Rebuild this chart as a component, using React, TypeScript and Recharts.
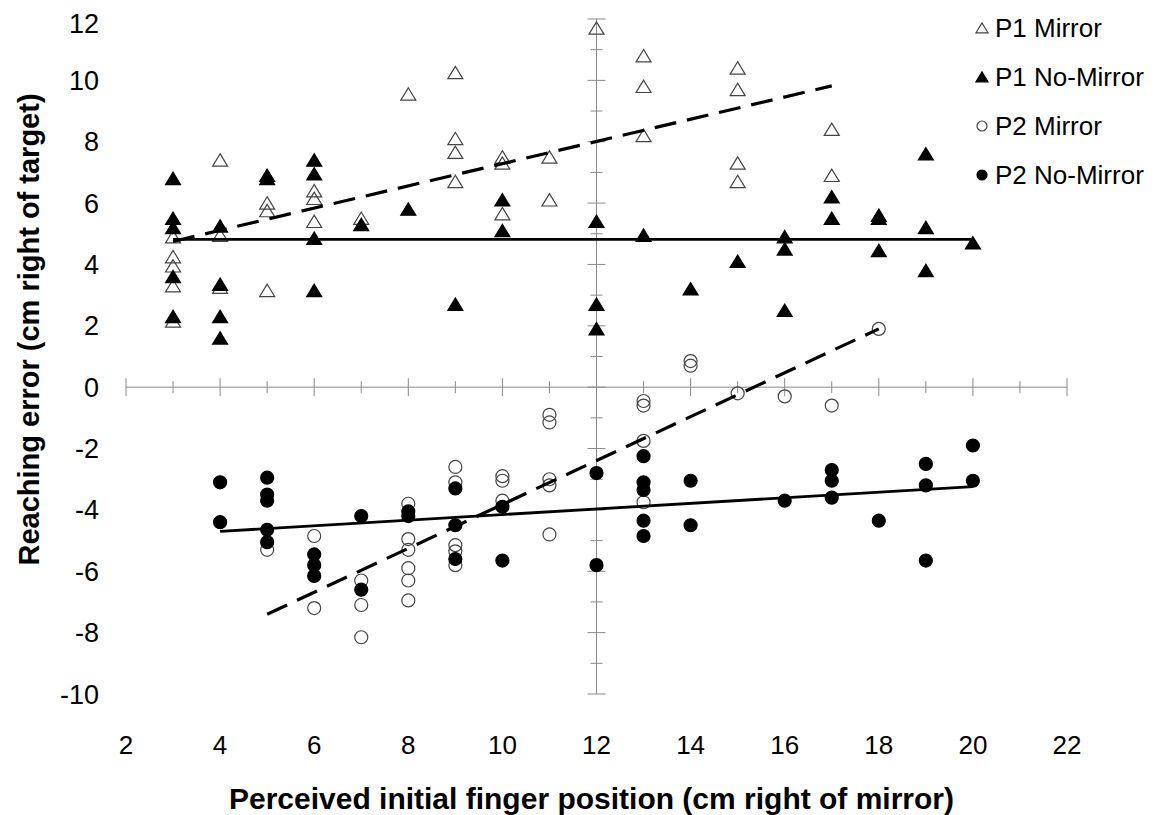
import React from 'react';
import { ScatterChart, Scatter, XAxis, YAxis, ReferenceLine, Label } from 'recharts';

// axis ticks
const xTicks = [2, 4, 6, 8, 10, 12, 14, 16, 18, 20, 22];
const yTicks = [-10, -8, -6, -4, -2, 0, 2, 4, 6, 8, 10, 12];
const xAxisMarks = [2, 3, 4, 5, 6, 7, 8, 9, 10, 11, 12, 13, 14, 15, 16, 17, 18, 19, 20, 21, 22];
const yAxisMarks = [-10, -9, -8, -7, -6, -5, -4, -3, -2, -1, 0, 1, 2, 3, 4, 5, 6, 7, 8, 9, 10, 11, 12];

// P1 Mirror (open triangles)
const p1Mirror = [
  { x: 3, y: 4.9 }, { x: 3, y: 4.25 }, { x: 3, y: 3.95 }, { x: 3, y: 3.3 }, { x: 3, y: 2.15 },
  { x: 4, y: 7.4 }, { x: 4, y: 4.95 }, { x: 4, y: 3.25 },
  { x: 5, y: 6.0 }, { x: 5, y: 5.75 }, { x: 5, y: 3.15 },
  { x: 6, y: 6.4 }, { x: 6, y: 6.15 }, { x: 6, y: 5.4 },
  { x: 7, y: 5.5 },
  { x: 8, y: 9.55 },
  { x: 9, y: 10.25 }, { x: 9, y: 8.1 }, { x: 9, y: 7.65 }, { x: 9, y: 6.7 },
  { x: 10, y: 7.5 }, { x: 10, y: 7.3 }, { x: 10, y: 5.65 },
  { x: 11, y: 7.5 }, { x: 11, y: 6.1 },
  { x: 12, y: 11.7 },
  { x: 13, y: 10.8 }, { x: 13, y: 9.8 }, { x: 13, y: 8.2 },
  { x: 15, y: 10.4 }, { x: 15, y: 9.7 }, { x: 15, y: 7.3 }, { x: 15, y: 6.7 },
  { x: 17, y: 8.4 }, { x: 17, y: 6.9 },
];

// P1 No-Mirror (filled triangles)
const p1NoMirror = [
  { x: 3, y: 6.8 }, { x: 3, y: 5.5 }, { x: 3, y: 5.2 }, { x: 3, y: 3.6 }, { x: 3, y: 2.3 },
  { x: 4, y: 5.25 }, { x: 4, y: 3.35 }, { x: 4, y: 2.3 }, { x: 4, y: 1.6 },
  { x: 5, y: 6.9 }, { x: 5, y: 6.8 },
  { x: 6, y: 7.4 }, { x: 6, y: 6.95 }, { x: 6, y: 4.85 }, { x: 6, y: 3.15 },
  { x: 7, y: 5.3 },
  { x: 8, y: 5.8 },
  { x: 9, y: 2.7 },
  { x: 10, y: 6.1 }, { x: 10, y: 5.1 },
  { x: 12, y: 5.4 }, { x: 12, y: 2.7 }, { x: 12, y: 1.9 },
  { x: 13, y: 4.95 },
  { x: 14, y: 3.2 },
  { x: 15, y: 4.1 },
  { x: 16, y: 4.9 }, { x: 16, y: 4.5 }, { x: 16, y: 2.5 },
  { x: 17, y: 6.2 }, { x: 17, y: 5.5 },
  { x: 18, y: 5.6 }, { x: 18, y: 5.5 }, { x: 18, y: 4.45 },
  { x: 19, y: 7.6 }, { x: 19, y: 5.2 }, { x: 19, y: 3.8 },
  { x: 20, y: 4.7 },
];

// P2 Mirror (open circles)
const p2Mirror = [
  { x: 5, y: -5.3 },
  { x: 6, y: -4.85 }, { x: 6, y: -7.2 },
  { x: 7, y: -6.3 }, { x: 7, y: -7.1 }, { x: 7, y: -8.15 },
  { x: 8, y: -3.8 }, { x: 8, y: -4.95 }, { x: 8, y: -5.3 }, { x: 8, y: -5.9 }, { x: 8, y: -6.3 }, { x: 8, y: -6.95 },
  { x: 9, y: -2.6 }, { x: 9, y: -3.1 }, { x: 9, y: -5.15 }, { x: 9, y: -5.35 }, { x: 9, y: -5.8 },
  { x: 10, y: -2.9 }, { x: 10, y: -3.05 }, { x: 10, y: -3.7 },
  { x: 11, y: -0.9 }, { x: 11, y: -1.15 }, { x: 11, y: -3.0 }, { x: 11, y: -3.2 }, { x: 11, y: -4.8 },
  { x: 13, y: -0.45 }, { x: 13, y: -0.6 }, { x: 13, y: -1.75 }, { x: 13, y: -3.75 },
  { x: 14, y: 0.85 }, { x: 14, y: 0.7 },
  { x: 15, y: -0.2 },
  { x: 16, y: -0.3 },
  { x: 17, y: -0.6 },
  { x: 18, y: 1.9 },
];

// P2 No-Mirror (filled circles)
const p2NoMirror = [
  { x: 4, y: -3.1 }, { x: 4, y: -4.4 },
  { x: 5, y: -2.95 }, { x: 5, y: -3.5 }, { x: 5, y: -3.7 }, { x: 5, y: -4.65 }, { x: 5, y: -5.05 },
  { x: 6, y: -5.45 }, { x: 6, y: -5.8 }, { x: 6, y: -6.15 },
  { x: 7, y: -4.2 }, { x: 7, y: -6.6 },
  { x: 8, y: -4.05 }, { x: 8, y: -4.2 },
  { x: 9, y: -3.3 }, { x: 9, y: -4.5 }, { x: 9, y: -5.6 },
  { x: 10, y: -3.9 }, { x: 10, y: -5.65 },
  { x: 12, y: -2.8 }, { x: 12, y: -5.8 },
  { x: 13, y: -2.25 }, { x: 13, y: -3.1 }, { x: 13, y: -3.35 }, { x: 13, y: -4.35 }, { x: 13, y: -4.85 },
  { x: 14, y: -3.05 }, { x: 14, y: -4.5 },
  { x: 16, y: -3.7 },
  { x: 17, y: -2.7 }, { x: 17, y: -3.05 }, { x: 17, y: -3.6 },
  { x: 18, y: -4.35 },
  { x: 19, y: -2.5 }, { x: 19, y: -3.2 }, { x: 19, y: -5.65 },
  { x: 20, y: -1.9 }, { x: 20, y: -3.05 },
];

// fitted trend lines (end points)
const p1MirrorFit = [{ x: 3, y: 4.75 }, { x: 17, y: 9.82 }];
const p1NoMirrorFit = [{ x: 3, y: 4.82 }, { x: 20, y: 4.82 }];
const p2MirrorFit = [{ x: 5, y: -7.4 }, { x: 18, y: 1.9 }];
const p2NoMirrorFit = [{ x: 4, y: -4.7 }, { x: 20, y: -3.24 }];

const legendItems = [
  { label: 'P1 Mirror', shape: 'triangle', filled: false },
  { label: 'P1 No-Mirror', shape: 'triangle', filled: true },
  { label: 'P2 Mirror', shape: 'circle', filled: false },
  { label: 'P2 No-Mirror', shape: 'circle', filled: true },
];

const X_MIN = 2;
const X_MAX = 22;
const Y_MIN = -10;
const Y_MAX = 12;
const FONT = '"Liberation Sans", Arial, Helvetica, sans-serif';
const AXIS_GREY = '#8a8a8a';

const Triangle = ({ cx, cy, filled, size = 7.5 }: any) => (
  <polygon
    points={`${cx},${cy - size * 0.85} ${cx - size},${cy + size * 0.8} ${cx + size},${cy + size * 0.8}`}
    fill={filled ? '#000' : 'none'}
    stroke={filled ? '#000' : '#444'}
    strokeWidth={1.2}
  />
);

const Dot = ({ cx, cy, filled, r = 6.5 }: any) => (
  <circle cx={cx} cy={cy} r={r} fill={filled ? '#000' : 'none'} stroke={filled ? '#000' : '#444'} strokeWidth={1.2} />
);

const NoMarker = () => <g />;

// vertical axis through x = 12, with tick marks
const VerticalAxisShape = (props: any) => {
  const { x1, y1, y2 } = props;
  const top = Math.min(y1, y2);
  const bottom = Math.max(y1, y2);
  const py = (v: number) => top + ((Y_MAX - v) / (Y_MAX - Y_MIN)) * (bottom - top);
  return (
    <g>
      <line x1={x1} x2={x1} y1={top} y2={bottom} stroke={AXIS_GREY} strokeWidth={1} />
      {yAxisMarks.map((v) => {
        const len = v % 2 === 0 ? 9 : 6;
        return <line key={v} x1={x1 - len} x2={x1 + len} y1={py(v)} y2={py(v)} stroke={AXIS_GREY} strokeWidth={1} />;
      })}
    </g>
  );
};

// horizontal axis through y = 0, with tick marks
const HorizontalAxisShape = (props: any) => {
  const { x1, x2, y1 } = props;
  const left = Math.min(x1, x2);
  const right = Math.max(x1, x2);
  const px = (v: number) => left + ((v - X_MIN) / (X_MAX - X_MIN)) * (right - left);
  return (
    <g>
      <line x1={left} x2={right} y1={y1} y2={y1} stroke={AXIS_GREY} strokeWidth={1} />
      {xAxisMarks.map((v) => {
        const len = v % 2 === 0 ? 9 : 6;
        return <line key={v} x1={px(v)} x2={px(v)} y1={y1 - len} y2={y1 + len} stroke={AXIS_GREY} strokeWidth={1} />;
      })}
    </g>
  );
};

const YTitle = ({ viewBox }: any) => {
  const cx = viewBox.x + 20.5;
  const cy = viewBox.y + viewBox.height / 2 - 27;
  return (
    <text
      x={cx}
      y={cy}
      transform={`rotate(-90, ${cx}, ${cy})`}
      textAnchor="middle"
      dominantBaseline="central"
      style={{ fontSize: 29, fontWeight: 700, fill: '#000', fontFamily: FONT }}
    >
      Reaching error (cm right of target)
    </text>
  );
};

const XTitle = ({ viewBox }: any) => {
  const cx = viewBox.x + viewBox.width / 2 - 5;
  const cy = viewBox.y + 104;
  return (
    <text
      x={cx}
      y={cy}
      textAnchor="middle"
      dominantBaseline="central"
      style={{ fontSize: 30, fontWeight: 700, fill: '#000', fontFamily: FONT }}
    >
      Perceived initial finger position (cm right of mirror)
    </text>
  );
};

const LegendMarker = ({ shape, filled }: any) => (
  <svg width={16} height={16} style={{ display: 'block' }}>
    {shape === 'triangle' ? <Triangle cx={8} cy={8} filled={filled} size={6} /> : <Dot cx={8} cy={8} filled={filled} r={5} />}
  </svg>
);

export default function App() {
  return (
    <div style={{ position: 'relative', width: 1154, height: 807, fontFamily: FONT, background: '#fff' }}>
      <ScatterChart width={1154} height={807} margin={{ top: 11, right: 95, bottom: 0, left: 0 }}>
        <XAxis
          type="number"
          dataKey="x"
          domain={[X_MIN, X_MAX]}
          ticks={xTicks}
          axisLine={false}
          tickLine={false}
          tickSize={0}
          tickMargin={42}
          height={121}
          tick={{ fontSize: 26, fill: '#000', fontFamily: FONT }}
        >
          <Label content={XTitle} />
        </XAxis>
        <YAxis
          type="number"
          dataKey="y"
          domain={[Y_MIN, Y_MAX]}
          ticks={yTicks}
          axisLine={false}
          tickLine={false}
          tickSize={0}
          tickMargin={27}
          width={118}
          tick={{ fontSize: 27, fill: '#000', fontFamily: FONT }}
        >
          <Label content={YTitle} />
        </YAxis>
        <ReferenceLine x={12} shape={VerticalAxisShape} />
        <ReferenceLine y={0} shape={HorizontalAxisShape} />

        <Scatter name="P1 Mirror" data={p1Mirror} isAnimationActive={false} shape={(p: any) => <Triangle cx={p.cx} cy={p.cy} filled={false} />} />
        <Scatter name="P2 Mirror" data={p2Mirror} isAnimationActive={false} shape={(p: any) => <Dot cx={p.cx} cy={p.cy} filled={false} />} />
        <Scatter name="P1 No-Mirror" data={p1NoMirror} isAnimationActive={false} shape={(p: any) => <Triangle cx={p.cx} cy={p.cy} filled />} />
        <Scatter name="P2 No-Mirror" data={p2NoMirror} isAnimationActive={false} shape={(p: any) => <Dot cx={p.cx} cy={p.cy} filled />} />

        <Scatter data={p1MirrorFit} isAnimationActive={false} shape={NoMarker} line={{ stroke: '#000', strokeWidth: 3.2, strokeDasharray: '22 11' }} />
        <Scatter data={p1NoMirrorFit} isAnimationActive={false} shape={NoMarker} line={{ stroke: '#000', strokeWidth: 2.8 }} />
        <Scatter data={p2MirrorFit} isAnimationActive={false} shape={NoMarker} line={{ stroke: '#000', strokeWidth: 3.2, strokeDasharray: '22 11' }} />
        <Scatter data={p2NoMirrorFit} isAnimationActive={false} shape={NoMarker} line={{ stroke: '#000', strokeWidth: 2.8 }} />
      </ScatterChart>

      {legendItems.map((item, i) => (
        <div
          key={item.label}
          style={{
            position: 'absolute',
            left: 966,
            top: 20 + i * 49 - 15,
            height: 30,
            display: 'flex',
            alignItems: 'center',
            whiteSpace: 'nowrap',
          }}
        >
          <LegendMarker shape={item.shape} filled={item.filled} />
          <span style={{ marginLeft: 5, fontSize: 26, color: '#000', lineHeight: '30px' }}>{item.label}</span>
        </div>
      ))}
    </div>
  );
}
